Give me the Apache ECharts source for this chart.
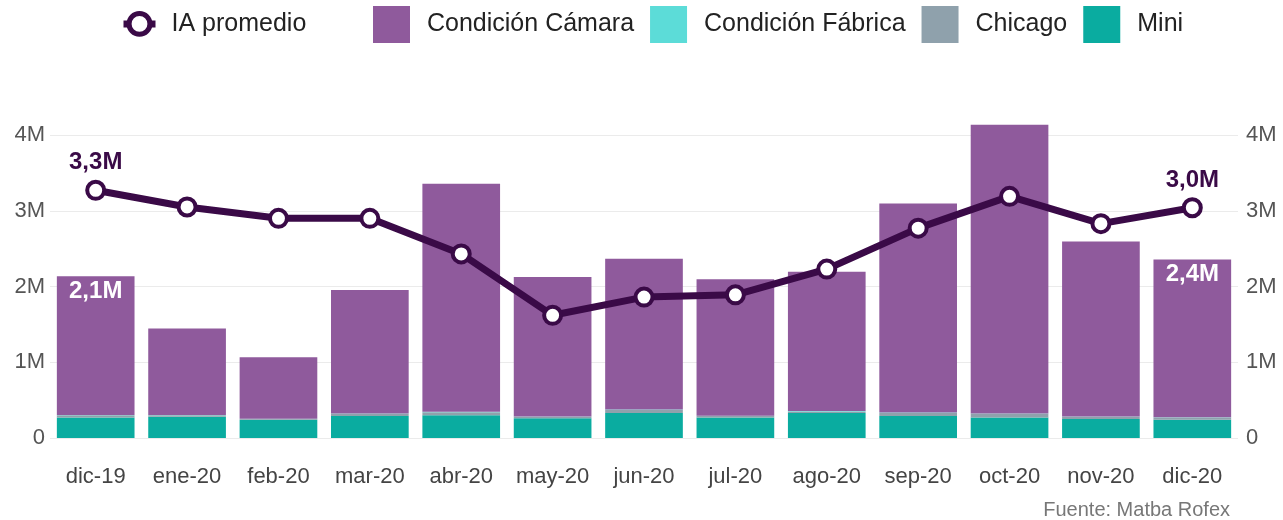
<!DOCTYPE html>
<html>
<head>
<meta charset="utf-8">
<script src="https://cdn.jsdelivr.net/npm/echarts@6/dist/echarts.min.js"></script>
<style>html,body{margin:0;padding:0;background:#fff;}#c{width:1283px;height:520px;}</style>
</head>
<body>
<div id="c"></div>
<script>
// values in millions
const categories = ['dic-19','ene-20','feb-20','mar-20','abr-20','may-20','jun-20','jul-20','ago-20','sep-20','oct-20','nov-20','dic-20'];
const mini     = [0.27,0.28,0.24,0.29,0.30,0.26,0.33,0.27,0.33,0.29,0.27,0.25,0.24];
const chicago  = [0.03,0.02,0.01,0.03,0.04,0.02,0.04,0.02,0.02,0.04,0.05,0.03,0.03];
const fabrica  = [0.005,0.005,0.005,0.005,0.005,0.005,0.005,0.005,0.005,0.005,0.005,0.005,0.005];
const camara   = [1.83,1.14,0.81,1.63,3.01,1.84,1.99,1.80,1.84,2.76,3.81,2.31,2.08];
const iaPromedio = [3.27,3.05,2.90,2.90,2.43,1.62,1.86,1.89,2.23,2.77,3.19,2.83,3.04];
const yTicks = [0,1,2,3,4];
const labeledIdx = [0, 12];

const FONT = 'Liberation Sans, Arial, sans-serif';
const fmtM = v => v.toFixed(1).replace('.', ',') + 'M';
const total = i => mini[i] + chicago[i] + fabrica[i] + camara[i];
const LINE = '#3a0a47';

const chart = echarts.init(document.getElementById('c'));
const axisLab = {fontSize: 22, color: '#555', fontFamily: FONT, formatter: v => v === 0 ? '0' : v + 'M'};

chart.setOption({
  animation: false,
  textStyle: {fontFamily: FONT},
  legend: [
    {left: 120, top: 11, padding: 0, itemWidth: 32, itemHeight: 26,
     data: [{name: 'IA promedio',
             itemStyle: {color: '#fff', borderColor: LINE, borderWidth: 5},
             lineStyle: {color: LINE, width: 7}}],
     textStyle: {fontSize: 25, color: '#222', fontFamily: FONT, padding: [0,0,0,11]}},
    {left: 373, top: 6, padding: 0, itemWidth: 37, itemHeight: 37, itemGap: 16, icon: 'rect',
     data: ['Condición Cámara','Condición Fábrica','Chicago','Mini'],
     textStyle: {fontSize: 25, color: '#222', fontFamily: FONT, padding: [3,0,0,12]}}
  ],
  grid: {left: 50, right: 45, top: 135, bottom: 82},
  xAxis: {
    type: 'category', data: categories,
    axisLine: {show: false}, axisTick: {show: false},
    axisLabel: {interval: 0, fontSize: 22, color: '#444', fontFamily: FONT, margin: 28}
  },
  yAxis: [
    {type: 'value', min: yTicks[0], max: yTicks[yTicks.length-1], interval: 1,
     axisLabel: Object.assign({margin: 5}, axisLab),
     splitLine: {lineStyle: {color: '#ebebeb', width: 1}},
     axisLine: {show: false}, axisTick: {show: false}},
    {type: 'value', min: yTicks[0], max: yTicks[yTicks.length-1], interval: 1,
     axisLabel: Object.assign({margin: 8}, axisLab),
     splitLine: {show: false}, axisLine: {show: false}, axisTick: {show: false}}
  ],
  series: [
    {name: 'Mini', type: 'bar', stack: 't', data: mini, barCategoryGap: '15%',
     itemStyle: {color: '#0aaca0'}, clip: false},
    {name: 'Chicago', type: 'bar', stack: 't', data: chicago,
     itemStyle: {color: '#8fa1ac'}, clip: false},
    {name: 'Condición Fábrica', type: 'bar', stack: 't', data: fabrica,
     itemStyle: {color: '#5cdcd8'}, clip: false},
    {name: 'Condición Cámara', type: 'bar', stack: 't', clip: false,
     itemStyle: {color: '#8f5a9c'},
     data: camara.map((v, i) => labeledIdx.includes(i) ? {
       value: v,
       label: {show: true, position: 'insideTop', distance: 3, color: '#fff',
               fontSize: 24, fontWeight: 'bold', fontFamily: FONT,
               formatter: () => fmtM(total(i))}
     } : v)},
    {name: 'IA promedio', type: 'line', yAxisIndex: 1, data: iaPromedio.map((v, i) => labeledIdx.includes(i) ? {
       value: v,
       label: {show: true, position: 'top', distance: 5, color: LINE,
               fontSize: 24, fontWeight: 'bold', fontFamily: FONT,
               formatter: () => fmtM(v)}
     } : v),
     symbol: 'circle', symbolSize: 17, z: 5,
     lineStyle: {color: LINE, width: 7},
     itemStyle: {color: '#fff', borderColor: LINE, borderWidth: 4}}
  ],
  graphic: [
    {type: 'text', right: 53, bottom: 0,
     style: {text: 'Fuente: Matba Rofex', fontSize: 20, fill: '#777', fontFamily: FONT}}
  ]
});
</script>
</body>
</html>
